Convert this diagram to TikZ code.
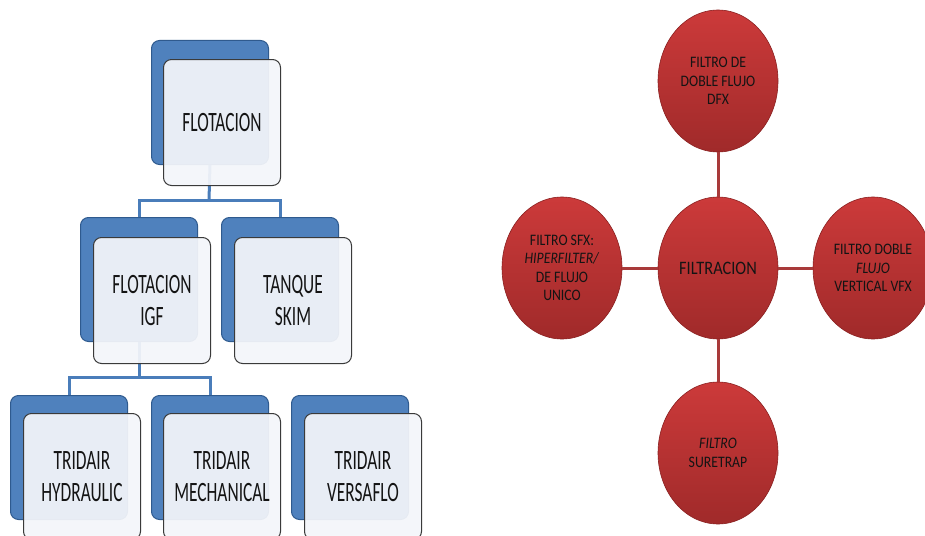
\documentclass[tikz,border=0pt]{standalone}
\usepackage{fontspec}
\usetikzlibrary{shapes.geometric}
\newfontfamily\boxfont[FakeStretch=0.62]{Carlito}
\newfontfamily\circfont[FakeStretch=0.86]{Carlito}
\definecolor{blueM}{HTML}{4F81BD}
\definecolor{blueD}{HTML}{2F5A8E}
\definecolor{blueL}{HTML}{4A7DBA}
\definecolor{frontc}{HTML}{F4F6FA}
\definecolor{grayD}{HTML}{3A3A3A}
\definecolor{redT}{HTML}{CC3A3A}
\definecolor{redB}{HTML}{A02A2A}
\definecolor{redD}{HTML}{8A2020}
\definecolor{redL}{HTML}{A83A3A}
\definecolor{txt}{HTML}{141414}
\tikzset{
  backbox/.style={draw=blueD, line width=1pt, fill=blueM, rounded corners=8pt,
    minimum width=117pt, minimum height=124pt, inner sep=0pt, anchor=north west},
  frontbox/.style={draw=grayD, line width=1pt, fill=frontc, fill opacity=0.93, text opacity=1,
    rounded corners=8pt, minimum width=117pt, minimum height=126pt, inner sep=0pt,
    anchor=north west, align=center, text=txt, font=\boxfont\fontsize{28}{32}\selectfont},
  bline/.style={draw=blueL, line width=3pt},
  rline/.style={draw=redL, line width=3pt},
  circ/.style={ellipse, draw=redD, line width=0.6pt, top color=redT, bottom color=redB,
    minimum width=120pt, minimum height=142pt, inner sep=0pt, align=center, text=txt,
    font=\circfont\fontsize{16}{18.5}\selectfont},
}
\begin{document}
\begin{tikzpicture}[x=1pt,y=-1pt]
\useasboundingbox (0,0) rectangle (925,535);
\clip (0,0) rectangle (925,535);
\fill[white] (0,0) rectangle (925,535);
% ---------- left tree ----------
\node[backbox] (flotb) at (151,40) {};
\node[backbox] (igfb) at (80,217) {};
\node[backbox] (skimb) at (221,217) {};
\node[backbox] (hydb) at (10,395) {};
\node[backbox] (mechb) at (151,395) {};
\node[backbox] (versb) at (291,395) {};
\coordinate (j1) at (209,200);
\coordinate (j2) at (139,377);
\draw[bline] (flotb.south) -- (j1);
\draw[bline] (igfb.north) |- (j1) -| (skimb.north);
\draw[bline] (igfb.south) -- (j2);
\draw[bline] (hydb.north) |- (j2) -| (mechb.north);
\node[frontbox] (flotf) at (163,59) {FLOTACION};
\node[frontbox] (igff) at (93,237) {FLOTACION\\IGF};
\node[frontbox] (skimf) at (234,237) {TANQUE\\SKIM};
\node[frontbox] (hydf) at (23,413) {TRIDAIR\\HYDRAULIC};
\node[frontbox] (mechf) at (163,413) {TRIDAIR\\MECHANICAL};
\node[frontbox] (versf) at (304,413) {TRIDAIR\\VERSAFLO};
% ---------- right radial ----------
\node[circ] (top) at (718,81) {FILTRO DE\\DOBLE FLUJO\\DFX};
\node[circ] (cen) at (718,268) {\fontsize{19}{21}\selectfont FILTRACION};
\node[circ] (lft) at (562,268) {FILTRO SFX:\\\textit{HIPERFILTER/}\\DE FLUJO\\UNICO};
\node[circ] (rgt) at (873,268) {FILTRO DOBLE\\\textit{FLUJO}\\VERTICAL VFX};
\node[circ] (bot) at (718,453) {\textit{FILTRO}\\SURETRAP};
\draw[rline] (top) -- (cen);
\draw[rline] (lft) -- (cen);
\draw[rline] (rgt) -- (cen);
\draw[rline] (bot) -- (cen);
\end{tikzpicture}
\end{document}
